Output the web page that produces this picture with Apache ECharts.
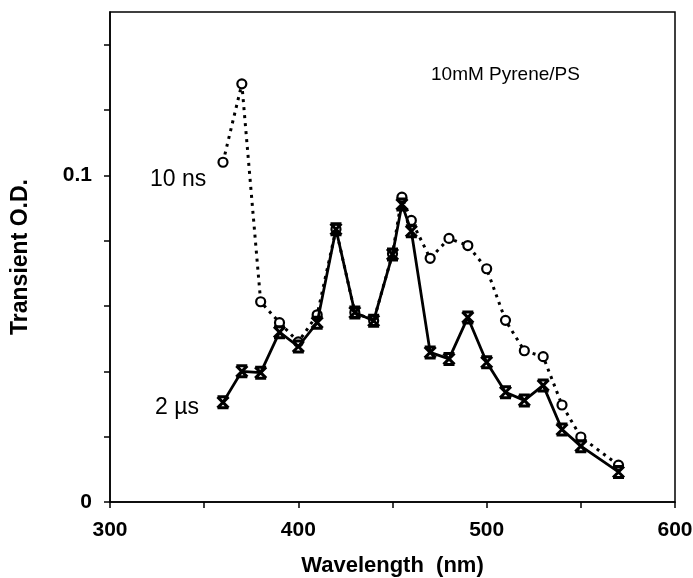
<!DOCTYPE html>
<html>
<head>
<meta charset="utf-8">
<script src="https://cdn.jsdelivr.net/npm/echarts@6/dist/echarts.min.js"></script>
<style>
  html, body { margin: 0; padding: 0; background: #fff; }
  #chart { width: 693px; height: 578px; }
</style>
</head>
<body>
<div id="chart"></div>
<script>
// Transient absorption spectra of 10 mM pyrene in polystyrene
const wavelengthNs = [360, 370, 380, 390, 400, 410, 420, 430, 440, 450, 455, 460, 470, 480, 490, 500, 510, 520, 530, 540, 550, 570];
const odNs =         [0.104, 0.128, 0.0613, 0.0549, 0.049, 0.0573, 0.0835, 0.058, 0.0555, 0.076, 0.0933, 0.0862, 0.0746, 0.0807, 0.0785, 0.0714, 0.0556, 0.0463, 0.0445, 0.0297, 0.0199, 0.0113];

const wavelengthUs = [360, 370, 380, 390, 400, 410, 420, 430, 440, 450, 455, 460, 470, 480, 490, 500, 510, 520, 530, 540, 550, 570];
const odUs =         [0.0305, 0.040, 0.0396, 0.052, 0.0476, 0.0549, 0.0835, 0.058, 0.0555, 0.0758, 0.0911, 0.0829, 0.0458, 0.0438, 0.0565, 0.0428, 0.0336, 0.0311, 0.0357, 0.0222, 0.0171, 0.0092];

const xTickValues = [300, 350, 400, 450, 500, 550, 600];
const xLabelValues = [300, 400, 500, 600];
const yTickValues = [0, 0.02, 0.04, 0.06, 0.08, 0.1, 0.12, 0.14];
const yLabelValues = [0, 0.1];

// bold "X" with bars across the top and bottom
const crossSymbol = 'path://M0,0 L10,0 M0,10 L10,10 M0,0 L10,10 M10,0 L0,10';

const chart = echarts.init(document.getElementById('chart'), null, { renderer: 'canvas' });

const fontFamily = '"Liberation Sans", Arial, Helvetica, sans-serif';
const tickFont = { fontFamily, fontWeight: 'bold', fontSize: 21, color: '#000' };

chart.setOption({
  animation: false,
  backgroundColor: '#fff',
  grid: {
    left: 110, right: 18, top: 12, bottom: 76,
    outerBoundsMode: 'none', containLabel: false,
    show: true, borderColor: '#000', borderWidth: 1.5, backgroundColor: 'transparent'
  },
  xAxis: {
    type: 'value', min: 300, max: 600, interval: 50,
    name: 'Wavelength  (nm)', nameLocation: 'middle', nameGap: 53,
    nameTextStyle: { fontFamily, fontWeight: 'bold', fontSize: 22, color: '#000' },
    axisLine: { lineStyle: { color: '#000', width: 1.5 } },
    axisTick: { customValues: xTickValues, length: 6, lineStyle: { color: '#000', width: 1.5 } },
    axisLabel: { customValues: xLabelValues, margin: 18, ...tickFont },
    splitLine: { show: false }
  },
  yAxis: {
    type: 'value', min: 0, max: 0.15,
    name: 'Transient O.D.', nameLocation: 'middle', nameGap: 78, nameRotate: 90,
    nameTextStyle: { fontFamily, fontWeight: 'bold', fontSize: 23, color: '#000' },
    axisLine: { lineStyle: { color: '#000', width: 1.5 } },
    axisTick: { customValues: yTickValues, length: 6, lineStyle: { color: '#000', width: 1.5 } },
    axisLabel: { customValues: yLabelValues, margin: 18, ...tickFont },
    splitLine: { show: false }
  },
  graphic: [
    { type: 'text', left: 431, top: 65, style: { text: '10mM Pyrene/PS', font: '19px "Liberation Sans", Arial, sans-serif', fill: '#000' } },
    { type: 'text', left: 150, top: 168, style: { text: '10 ns', font: '23px "Liberation Sans", Arial, sans-serif', fill: '#000' } },
    { type: 'text', left: 155, top: 396, style: { text: '2 \u00b5s', font: '23px "Liberation Sans", Arial, sans-serif', fill: '#000' } }
  ],
  series: [
    {
      name: '10 ns', type: 'line',
      data: wavelengthNs.map((w, i) => [w, odNs[i]]),
      symbol: 'circle', symbolSize: 9, showAllSymbol: true,
      lineStyle: { color: '#000', width: 3, type: [3, 5] },
      itemStyle: { color: '#fff', borderColor: '#000', borderWidth: 2.2 },
      z: 2
    },
    {
      name: '2 \u00b5s', type: 'line',
      data: wavelengthUs.map((w, i) => [w, odUs[i]]),
      symbol: crossSymbol, symbolSize: 11, showAllSymbol: true,
      lineStyle: { color: '#000', width: 2.8 },
      itemStyle: { color: 'transparent', borderColor: '#000', borderWidth: 3 },
      z: 3
    }
  ]
});
</script>
</body>
</html>
